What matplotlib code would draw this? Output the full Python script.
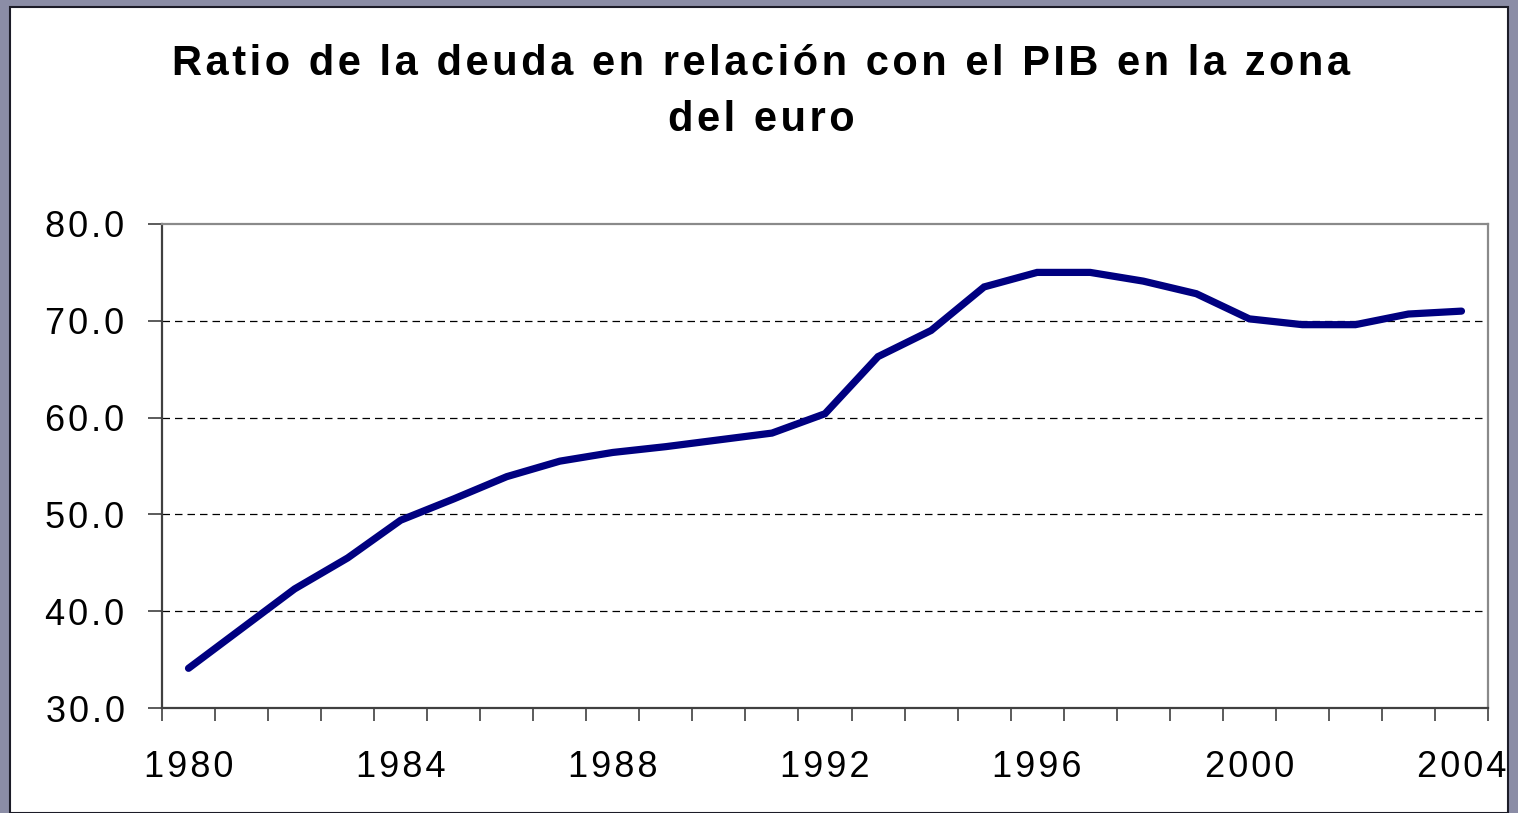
import matplotlib
matplotlib.use("Agg")
import matplotlib.pyplot as plt
from matplotlib.patches import Rectangle

years = list(range(1980, 2005))
debt_ratio = [34.1, 38.2, 42.3, 45.5, 49.4, 51.6, 53.9, 55.5, 56.4, 57.0,
              57.7, 58.4, 60.4, 66.3, 69.0, 73.5, 75.0, 75.0, 74.1, 72.8,
              70.2, 69.6, 69.6, 70.7, 71.0]
title_lines = ["Ratio de la deuda en relación con el PIB en la zona", "del euro"]
y_ticks = [30, 40, 50, 60, 70, 80]
label_years = [1980, 1984, 1988, 1992, 1996, 2000, 2004]

W, H = 1518, 813
plt.rcParams['font.family'] = ['Liberation Sans', 'DejaVu Sans']
hair = "\u200a"  # the original text is a bit wider than Arial, pad it out


def spaced(s):
    return hair.join(s)


fig = plt.figure(figsize=(W / 100, H / 100), dpi=100, facecolor='#8b8da6')

# white slide panel
panel = Rectangle((10 / W, 0), (1508 - 10) / W, (H - 7) / H,
                  transform=fig.transFigure, facecolor='white',
                  edgecolor='#1c1c28', linewidth=1.5, zorder=-5)
fig.patches.append(panel)

ax = fig.add_axes([162 / W, (H - 708) / H, (1488 - 162) / W, (708 - 224) / H])
ax.set_facecolor('white')

x = list(range(len(years)))
ax.plot(x, debt_ratio, color='#000080', linewidth=5.2,
        solid_capstyle='round', solid_joinstyle='miter', zorder=3)

ax.set_xlim(-0.5, len(years) - 0.5)
ax.set_ylim(30, 80)

# category axis: tick marks between categories, labels every 4 years
ax.set_xticks([i - 0.5 for i in range(len(years) + 1)])
ax.set_xticklabels([])
ax.set_xticks([years.index(yr) for yr in label_years], minor=True)
ax.set_xticklabels([spaced(str(yr)) for yr in label_years], minor=True)
ax.tick_params(axis='x', which='major', direction='out', length=9,
               width=1.2, color='#404040')
ax.tick_params(axis='x', which='minor', length=0, pad=30, labelsize=26)

ax.set_yticks(y_ticks)
ax.set_yticklabels([spaced(f"{v:.1f}") for v in y_ticks])
ax.tick_params(axis='y', direction='out', length=10, width=1.2,
               color='#404040', pad=17, labelsize=26)

for v in y_ticks[1:-1]:
    ax.axhline(v, color='black', linewidth=0.9, linestyle=(0, (6, 4)), zorder=1)

ax.spines['left'].set_color('#404040')
ax.spines['bottom'].set_color('#404040')
ax.spines['top'].set_color('#8a8a8a')
ax.spines['right'].set_color('#8a8a8a')
for s in ax.spines.values():
    s.set_linewidth(1.6)

for line, ypix in zip(title_lines, [64, 120]):
    fig.text(0.5015, 1 - ypix / H, spaced(line), ha='center', va='center',
             fontsize=30, fontweight='bold')

fig.savefig("out.png", dpi=100, facecolor=fig.get_facecolor())
